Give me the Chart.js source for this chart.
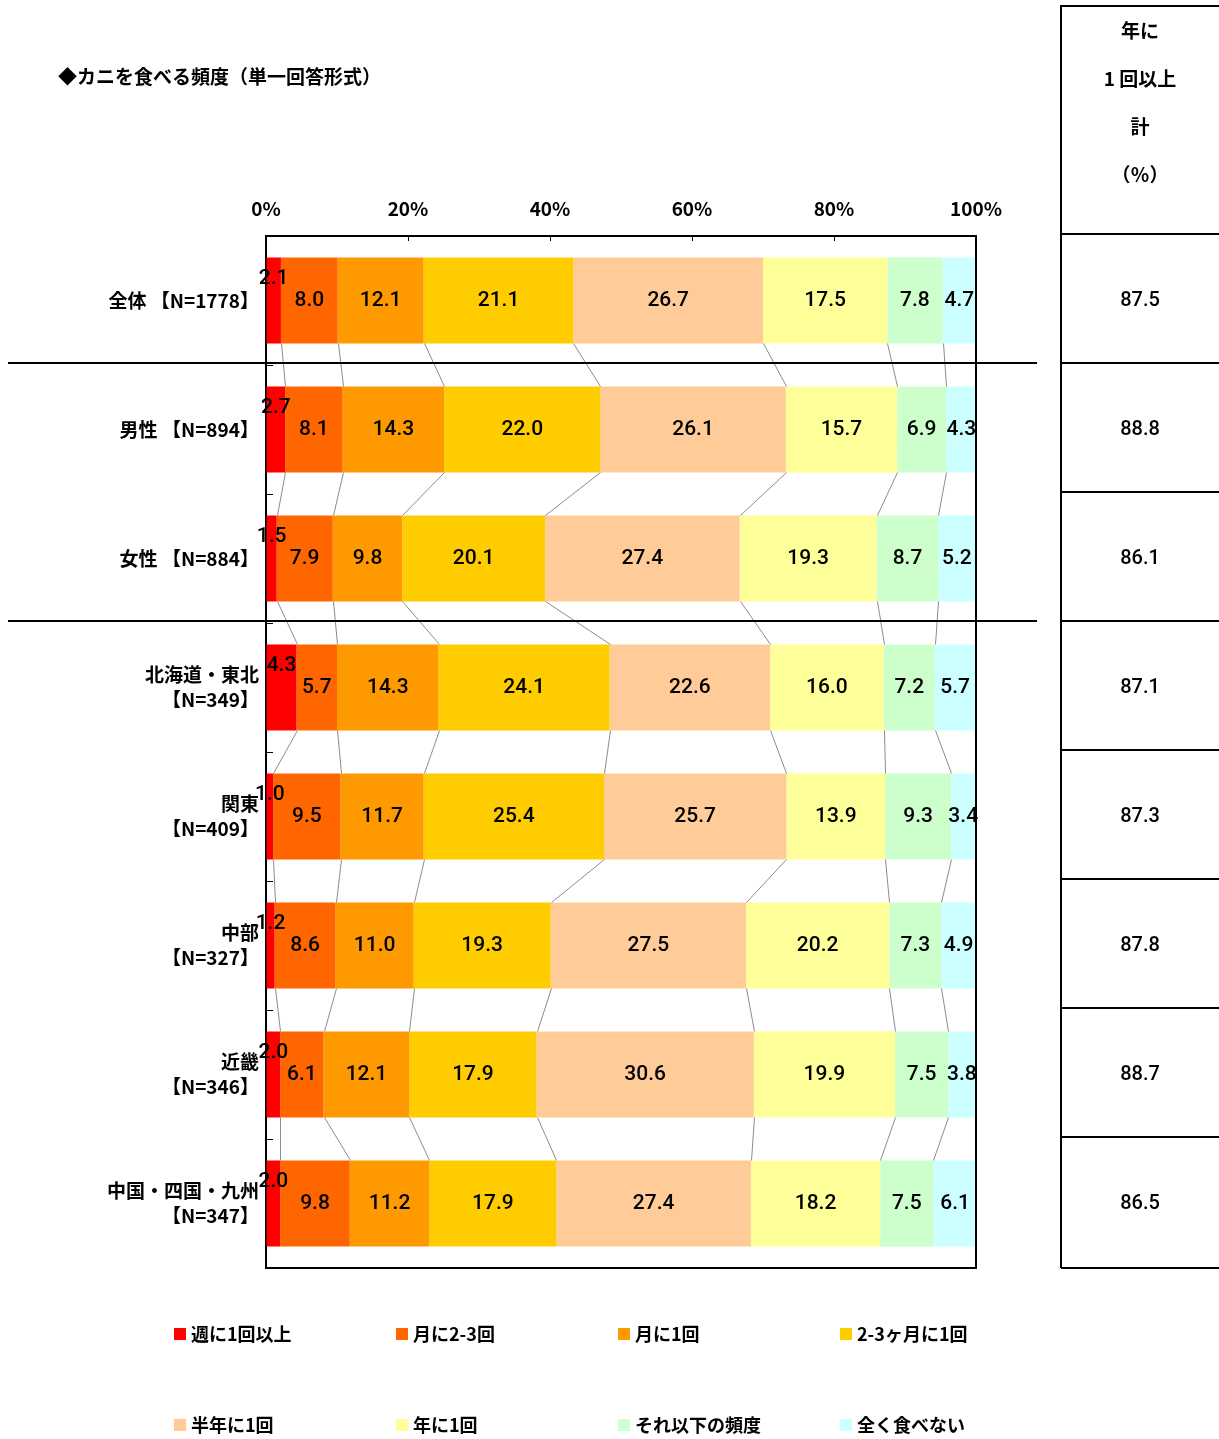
<!DOCTYPE html>
<html>
<head>
<meta charset="utf-8">
<script src="https://cdn.jsdelivr.net/npm/chart.js@4"></script>
<style>
  body { margin: 0; background: #fff; }
  canvas { display: block; }
</style>
</head>
<body>
<canvas id="chart" width="1219" height="1439"></canvas>
<script>
// 行（回答者グループ）
const groups = [
  "全体 【N=1778】",
  "男性 【N=894】",
  "女性 【N=884】",
  ["北海道・東北", "【N=349】"],
  ["関東", "【N=409】"],
  ["中部", "【N=327】"],
  ["近畿", "【N=346】"],
  ["中国・四国・九州", "【N=347】"]
];

// 頻度カテゴリ
const freqLabels = ["週に1回以上", "月に2-3回", "月に1回", "2-3ヶ月に1回", "半年に1回", "年に1回", "それ以下の頻度", "全く食べない"];
const freqColors = ["#FF0000", "#FF6600", "#FF9900", "#FFCC00", "#FFCC99", "#FFFF99", "#CCFFCC", "#CCFFFF"];

// 各カテゴリの値（%）
const weekly    = [2.1, 2.7, 1.5, 4.3, 1.0, 1.2, 2.0, 2.0];
const month23   = [8.0, 8.1, 7.9, 5.7, 9.5, 8.6, 6.1, 9.8];
const month1    = [12.1, 14.3, 9.8, 14.3, 11.7, 11.0, 12.1, 11.2];
const months23  = [21.1, 22.0, 20.1, 24.1, 25.4, 19.3, 17.9, 17.9];
const halfYear  = [26.7, 26.1, 27.4, 22.6, 25.7, 27.5, 30.6, 27.4];
const yearly    = [17.5, 15.7, 19.3, 16.0, 13.9, 20.2, 19.9, 18.2];
const lessOften = [7.8, 6.9, 8.7, 7.2, 9.3, 7.3, 7.5, 7.5];
const never     = [4.7, 4.3, 5.2, 5.7, 3.4, 4.9, 3.8, 6.1];
const series = [weekly, month23, month1, months23, halfYear, yearly, lessOften, never];

// 年に1回以上 計（%）
const yearTotal = [87.5, 88.8, 86.1, 87.1, 87.3, 87.8, 88.7, 86.5];

const xTicks = [0, 20, 40, 60, 80, 100];

const FONT = '"Noto Sans CJK JP", "Noto Sans", sans-serif';
const NUM_FONT = 'Roboto, "Noto Sans CJK JP", sans-serif';

const extras = {
  id: "extras",
  afterDatasetsDraw(chart) {
    const { ctx, scales: { x, y } } = chart;
    const bars = chart.getDatasetMeta(0).data;
    const h = bars[0].height;

    // 棒と棒をつなぐ線
    ctx.save();
    ctx.strokeStyle = "#8c8c8c";
    ctx.lineWidth = 1;
    for (let i = 0; i < groups.length - 1; i++) {
      let c1 = 0, c2 = 0;
      for (let k = 0; k < series.length - 1; k++) {
        c1 += series[k][i];
        c2 += series[k][i + 1];
        ctx.beginPath();
        ctx.moveTo(Math.round(x.getPixelForValue(c1)) + 0.5, y.getPixelForValue(i) + h / 2);
        ctx.lineTo(Math.round(x.getPixelForValue(c2)) + 0.5, y.getPixelForValue(i + 1) - h / 2);
        ctx.stroke();
      }
    }

    // 数値ラベル
    ctx.fillStyle = "#000";
    ctx.font = "500 21px " + NUM_FONT;
    ctx.textAlign = "center";
    ctx.textBaseline = "middle";
    series.forEach((vals, k) => {
      chart.getDatasetMeta(k).data.forEach((bar, i) => {
        const cx = (bar.x + bar.base) / 2;
        const cy = k === 0 ? bar.y - 22 : bar.y;
        ctx.fillText(vals[i].toFixed(1), cx, cy);
      });
    });
    ctx.restore();
  },
  afterDraw(chart) {
    const { ctx, chartArea: a, scales: { x, y } } = chart;
    ctx.save();
    ctx.strokeStyle = "#000";
    ctx.lineWidth = 2;

    // 枠（右・下）
    ctx.beginPath();
    ctx.moveTo(a.left, a.bottom);
    ctx.lineTo(a.right, a.bottom);
    ctx.lineTo(a.right, a.top);
    ctx.stroke();

    // 内向きの目盛り
    ctx.lineWidth = 1;
    xTicks.forEach(v => {
      const px = Math.round(x.getPixelForValue(v)) + 0.5;
      ctx.beginPath();
      ctx.moveTo(px, a.top);
      ctx.lineTo(px, a.top + 5);
      ctx.stroke();
    });
    for (let i = 0; i < groups.length - 1; i++) {
      const py = Math.round((y.getPixelForValue(i) + y.getPixelForValue(i + 1)) / 2) + 0.5;
      ctx.beginPath();
      ctx.moveTo(a.left, py);
      ctx.lineTo(a.left + 7, py);
      ctx.stroke();
    }

    // グループ区切り線
    ctx.lineWidth = 2;
    [0, 2].forEach(i => {
      const py = Math.round((y.getPixelForValue(i) + y.getPixelForValue(i + 1)) / 2) - 2;
      ctx.beginPath();
      ctx.moveTo(8, py);
      ctx.lineTo(1037, py);
      ctx.stroke();
    });

    // タイトル
    ctx.fillStyle = "#000";
    ctx.font = "bold 19px " + FONT;
    ctx.textAlign = "left";
    ctx.textBaseline = "middle";
    ctx.fillText("◆カニを食べる頻度（単一回答形式）", 58, 77);

    // 右側の表
    const tl = 1061, tr = 1219, tc = 1140;
    ctx.beginPath();
    ctx.moveTo(tr, 6);
    ctx.lineTo(tl, 6);
    ctx.lineTo(tl, a.bottom);
    ctx.stroke();
    const rowLines = [a.top - 2];
    for (let i = 0; i < groups.length - 1; i++) {
      rowLines.push((y.getPixelForValue(i) + y.getPixelForValue(i + 1)) / 2 - 2);
    }
    rowLines.push(a.bottom);
    rowLines.forEach(py => {
      ctx.beginPath();
      ctx.moveTo(tl, Math.round(py));
      ctx.lineTo(tr, Math.round(py));
      ctx.stroke();
    });
    ctx.textAlign = "center";
    ["年に", "1 回以上", "計", "（％）"].forEach((t, j) => {
      ctx.fillText(t, tc, 31 + j * 48);
    });
    ctx.font = "500 20px " + NUM_FONT;
    yearTotal.forEach((v, i) => {
      ctx.fillText(v.toFixed(1), tc, y.getPixelForValue(i));
    });

    // 凡例
    ctx.font = "bold 18px " + FONT;
    ctx.textAlign = "left";
    freqLabels.forEach((t, k) => {
      const lx = 174 + (k % 4) * 222;
      const ly = k < 4 ? 1334 : 1425;
      ctx.fillStyle = freqColors[k];
      ctx.fillRect(lx, ly - 6, 12, 12);
      ctx.fillStyle = "#000";
      ctx.fillText(t, lx + 17, ly);
    });
    ctx.restore();
  }
};

new Chart(document.getElementById("chart"), {
  type: "bar",
  data: {
    labels: groups,
    datasets: series.map((vals, k) => ({
      label: freqLabels[k],
      data: vals,
      backgroundColor: freqColors[k],
      borderWidth: 0,
      categoryPercentage: 0.667,
      barPercentage: 1
    }))
  },
  options: {
    indexAxis: "y",
    responsive: false,
    animation: false,
    layout: { padding: { left: 0, top: 196, right: 243, bottom: 171 } },
    plugins: {
      legend: { display: false },
      tooltip: { enabled: false }
    },
    scales: {
      x: {
        position: "top",
        stacked: true,
        min: 0,
        max: 100,
        afterBuildTicks(s) { s.ticks = xTicks.map(v => ({ value: v })); },
        afterFit(s) { s.height = 40; },
        ticks: {
          color: "#000",
          font: { family: FONT, size: 19, weight: "bold" },
          padding: 16,
          callback: v => v + "%"
        },
        grid: { drawOnChartArea: false, drawTicks: false },
        border: { color: "#000", width: 2 }
      },
      y: {
        stacked: true,
        afterFit(s) { s.width = 266; },
        ticks: {
          color: "#000",
          font: { family: FONT, size: 19, weight: "bold", lineHeight: 1.3 },
          padding: 7
        },
        grid: { drawOnChartArea: false, drawTicks: false },
        border: { color: "#000", width: 2 }
      }
    }
  },
  plugins: [extras]
});
</script>
</body>
</html>
